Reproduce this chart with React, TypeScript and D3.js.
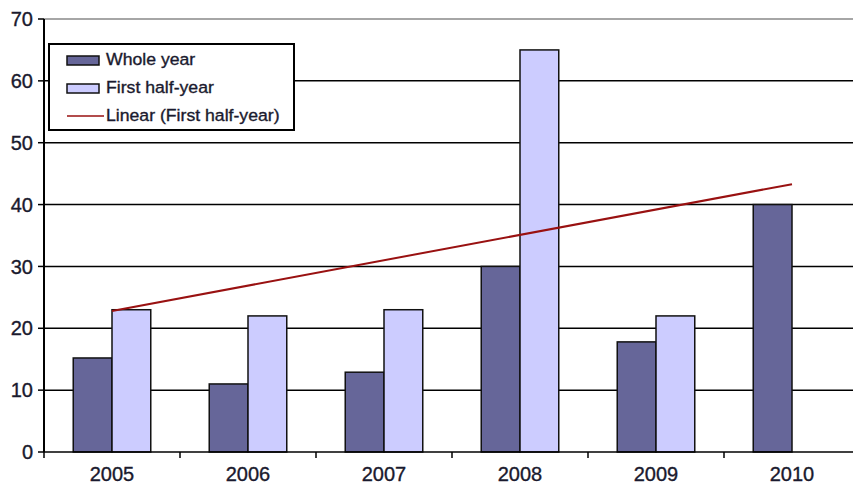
import React from "react";
import * as d3 from "d3";

const categories = ["2005", "2006", "2007", "2008", "2009", "2010"];
const wholeYear = [15.2, 11, 12.9, 30, 17.8, 40];
const firstHalf: (number | null)[] = [23, 22, 23, 65, 22, null];
const yTicks = [0, 10, 20, 30, 40, 50, 60, 70];
const seriesNames = ["Whole year", "First half-year", "Linear (First half-year)"];

const W = 853, H = 484;
const left = 44, right = 860, top = 19, bottom = 452;

export default function App() {
  const x = d3.scaleBand().domain(categories).range([left, right]).paddingInner(0).paddingOuter(0);
  const y = d3.scaleLinear().domain([0, 70]).range([bottom, top]);
  const bw = x.bandwidth();
  const barW = bw * 0.285;

  // linear trend of first half-year
  const pts = firstHalf.map((v, i) => [i + 1, v] as [number, number | null]).filter(p => p[1] != null) as [number, number][];
  const mx = d3.mean(pts, p => p[0])!;
  const my = d3.mean(pts, p => p[1])!;
  const slope = d3.sum(pts, p => (p[0] - mx) * (p[1] - my)) / d3.sum(pts, p => (p[0] - mx) ** 2);
  const icpt = my - slope * mx;
  const trendX = [1, categories.length];
  const cx = (i: number) => x(categories[i - 1])! + bw / 2;
  const line = d3.line<number>().x(i => cx(i)).y(i => y(icpt + slope * i));

  const font = "Arial, 'Liberation Sans', sans-serif";
  const textProps = { fill: "#1a1a2e", stroke: "#1a1a2e", strokeWidth: 0.35 };
  return (
    <svg width={W} height={H} style={{ position: "absolute", left: 0, top: 0 }} fontFamily={font}>
      <rect width={W} height={H} fill="#fff" />
      {yTicks.map(t => (
        <g key={t}>
          {t > 0 && <line x1={left} x2={right} y1={y(t)} y2={y(t)} stroke={t === 70 ? "#888" : "#000"} strokeWidth={1.5} />}
          <line x1={left - 6} x2={left} y1={y(t)} y2={y(t)} stroke="#000" strokeWidth={1.5} />
          <text x={33} y={y(t)} dy="0.36em" textAnchor="end" fontSize={20} {...textProps}>{t}</text>
        </g>
      ))}
      {categories.map((c, i) => (
        <g key={c}>
          <rect x={x(c)! + bw / 2 - barW} y={y(wholeYear[i])} width={barW} height={bottom - y(wholeYear[i])} fill="#666699" stroke="#111" strokeWidth={1.5} />
          {firstHalf[i] != null && (
            <rect x={x(c)! + bw / 2} y={y(firstHalf[i]!)} width={barW} height={bottom - y(firstHalf[i]!)} fill="#CCCCFF" stroke="#111" strokeWidth={1.5} />
          )}
          <text x={x(c)! + bw / 2} y={481} textAnchor="middle" fontSize={20} {...textProps}>{c}</text>
          <line x1={x(c)!} x2={x(c)!} y1={bottom} y2={bottom + 6} stroke="#000" strokeWidth={1.5} />
        </g>
      ))}
      <line x1={left} x2={right} y1={bottom} y2={bottom} stroke="#000" strokeWidth={1.5} />
      <line x1={left} x2={left} y1={top} y2={bottom} stroke="#000" strokeWidth={2} />
      <path d={line(trendX) ?? ""} fill="none" stroke="#991111" strokeWidth={2} />
      <g>
        <rect x={49} y={44} width={245} height={86} fill="#fff" stroke="#000" strokeWidth={2} />
        {seriesNames.map((s, i) => {
          const yy = 60 + i * 28;
          return (
            <g key={s}>
              {i < 2 ? (
                <rect x={67} y={yy - 4} width={32} height={9} fill={i === 0 ? "#666699" : "#CCCCFF"} stroke="#111" strokeWidth={1.5} />
              ) : (
                <line x1={67} x2={104} y1={yy} y2={yy} stroke="#991111" strokeWidth={1.5} />
              )}
              <text x={106} y={yy} dy="0.32em" fontSize={16.5} transform={`translate(${-106 * 0.07},0) scale(1.07,1)`} {...textProps}>{s}</text>
            </g>
          );
        })}
      </g>
    </svg>
  );
}
